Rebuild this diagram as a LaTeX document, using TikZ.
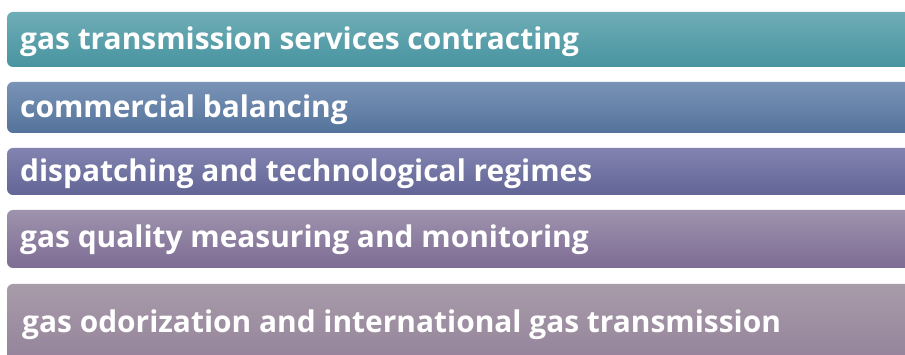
\documentclass[tikz,border=0pt]{standalone}
\usepackage{fontspec}
\setmainfont{Open Sans}
\begin{document}
\begin{tikzpicture}[x=1pt,y=1pt,
  barbox/.style={rounded corners=6pt},
  bartext/.style={anchor=base west,inner sep=0pt,text=white,font=\fontsize{29.9}{34}\selectfont\bfseries}]
\definecolor{aT}{HTML}{6FADB6}\definecolor{aB}{HTML}{4794A0}
\definecolor{bT}{HTML}{7A93B7}\definecolor{bB}{HTML}{54739A}
\definecolor{cT}{HTML}{8283B0}\definecolor{cB}{HTML}{626595}
\definecolor{dT}{HTML}{9D93AD}\definecolor{dB}{HTML}{7E6C94}
\definecolor{eT}{HTML}{A89BA9}\definecolor{eB}{HTML}{907F98}
\useasboundingbox (0,0) rectangle (905,355);
\clip (0,0) rectangle (905,355);
\shade[barbox,top color=aT,bottom color=aB] (7,288) rectangle (920,343);
\shade[barbox,top color=bT,bottom color=bB] (7,222) rectangle (920,273);
\shade[barbox,top color=cT,bottom color=cB] (7,160) rectangle (920,207);
\shade[barbox,top color=dT,bottom color=dB] (7,87) rectangle (920,145);
\shade[barbox,top color=eT,bottom color=eB] (7,-20) rectangle (920,71);
\node[bartext] (t1) at (20,305) {gas transmission services contracting};
\node[bartext] (t2) at (20,237) {commercial balancing};
\node[bartext] (t3) at (20,173) {dispatching and technological regimes};
\node[bartext] (t4) at (20,107) {gas quality measuring and monitoring};
\node[bartext] (t5) at (22,22) {gas odorization and international gas transmission};
\end{tikzpicture}
\end{document}
